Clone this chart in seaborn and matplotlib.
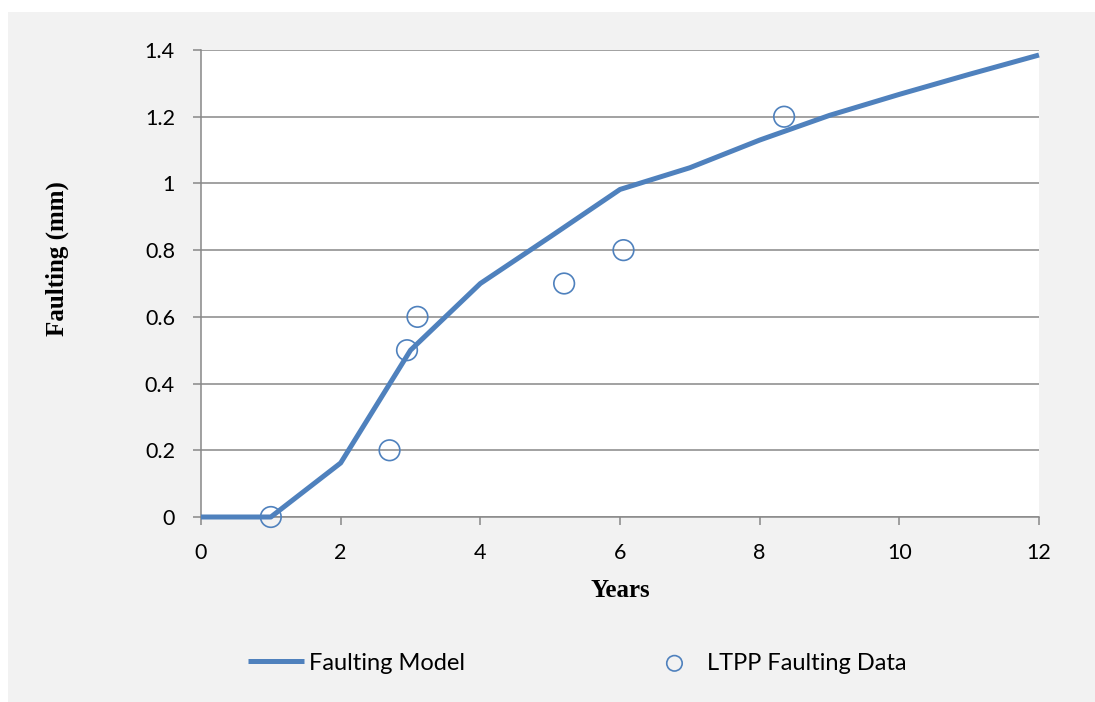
import matplotlib
matplotlib.use("Agg")
import matplotlib.pyplot as plt
from matplotlib.patches import Rectangle
import pandas as pd
import seaborn as sns

# Faulting model curve (years vs. faulting in mm)
model_years = [0, 1, 2, 3, 4, 5, 6, 7, 8, 9, 10, 11, 12]
model_faulting = [0.0, 0.0, 0.162, 0.50, 0.70, 0.84, 0.982, 1.047, 1.13, 1.204, 1.267, 1.327, 1.385]

# Measured LTPP faulting observations
ltpp_years = [1.0, 2.7, 2.95, 3.1, 5.2, 6.05, 8.35]
ltpp_faulting = [0.0, 0.2, 0.5, 0.6, 0.7, 0.8, 1.2]

x_ticks = [0, 2, 4, 6, 8, 10, 12]
y_ticks = [0, 0.2, 0.4, 0.6, 0.8, 1.0, 1.2, 1.4]
y_tick_labels = ["0", "0.2", "0.4", "0.6", "0.8", "1", "1.2", "1.4"]

BLUE = "#4f81bd"
GRID = "#888888"
PANEL = "#f2f2f2"
W, H = 1095, 702

sns.set_theme(style="white")
plt.rcParams["font.family"] = ["Lato", "DejaVu Sans"]
plt.rcParams["text.color"] = "black"
plt.rcParams["axes.labelcolor"] = "black"
plt.rcParams["xtick.color"] = "black"
plt.rcParams["ytick.color"] = "black"

fig = plt.figure(figsize=(W / 100, H / 100), dpi=100)
fig.patch.set_facecolor("white")
fig.patches.append(Rectangle((8 / W, 0), 1 - 8 / W, 1 - 12 / H,
                             transform=fig.transFigure, facecolor=PANEL,
                             edgecolor="none", zorder=-10))

ax = fig.add_axes([201 / W, 1 - 517 / H, 838 / W, 467 / H])
ax.set_facecolor("white")

model_df = pd.DataFrame({"Years": model_years, "Faulting": model_faulting})
ltpp_df = pd.DataFrame({"Years": ltpp_years, "Faulting": ltpp_faulting})

sns.lineplot(data=model_df, x="Years", y="Faulting", color=BLUE, linewidth=3.6,
             ax=ax, label="Faulting Model", clip_on=False, zorder=3,
             solid_capstyle="butt")
sns.scatterplot(data=ltpp_df, x="Years", y="Faulting", marker="o", s=220,
                facecolors="none", edgecolor=BLUE, linewidth=1.2, ax=ax,
                label="LTPP Faulting Data", clip_on=False, zorder=4)

ax.set_xlim(0, 12)
ax.set_ylim(0, 1.4)
ax.set_xticks(x_ticks)
ax.set_xticklabels([str(t) for t in x_ticks])
ax.set_yticks(y_ticks)
ax.set_yticklabels(y_tick_labels)

ax.tick_params(axis="both", which="major", bottom=True, left=True,
               direction="out", length=5.8, width=1.1, color=GRID,
               pad=13, labelsize=15.5)
for side in ("top", "right"):
    ax.spines[side].set_visible(False)
for side in ("left", "bottom"):
    ax.spines[side].set_color(GRID)
    ax.spines[side].set_linewidth(1.1)
ax.yaxis.grid(True, color=GRID, linewidth=1.1)
ax.xaxis.grid(False)
ax.set_axisbelow(True)

label_font = dict(family="Liberation Serif", weight="bold", size=18)
ax.set_xlabel("Years", **label_font)
ax.set_ylabel("Faulting (mm)", **label_font)
ax.xaxis.label.set_ha("center")
ax.xaxis.label.set_va("center")
ax.yaxis.label.set_ha("center")
ax.yaxis.label.set_va("center")
ax.xaxis.set_label_coords(0.5, -0.158)
ax.yaxis.set_label_coords(-0.171, 0.5525)

ax.legend(loc="center left", bbox_to_anchor=(248 / W, 1 - 663 / H),
          bbox_transform=fig.transFigure, ncol=2, frameon=False,
          fontsize=17, handlelength=2.37, handletextpad=0.2,
          columnspacing=7.7, borderpad=0, borderaxespad=0, markerscale=0.75)

fig.savefig("out.png", dpi=100)
